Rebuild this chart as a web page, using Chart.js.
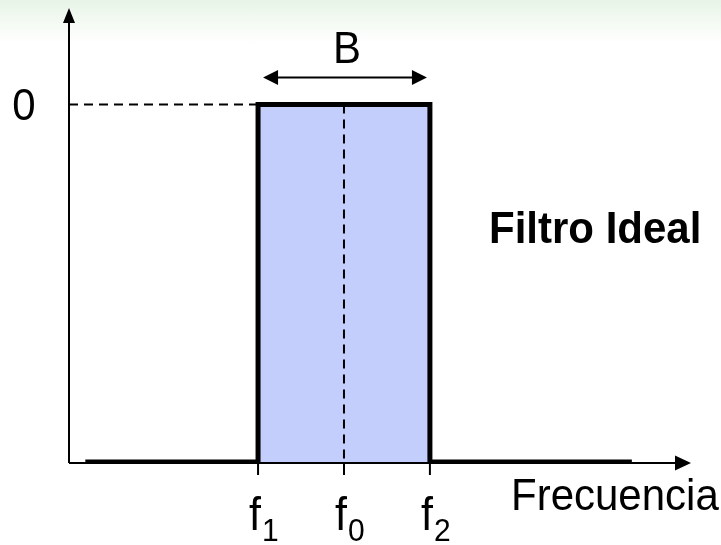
<!DOCTYPE html>
<html>
<head>
<meta charset="utf-8">
<title>Filtro Ideal</title>
<script src="https://cdn.jsdelivr.net/npm/chart.js@4/dist/chart.umd.min.js"></script>
<style>
  html, body { margin: 0; padding: 0; background: #ffffff; }
  #wrap { width: 721px; height: 545px; background: linear-gradient(to bottom, #e7f4e6 0px, #f4faf3 22px, #ffffff 44px, #ffffff 100%); }
  canvas { display: block; }
</style>
</head>
<body>
<div id="wrap"><canvas id="c" width="721" height="545"></canvas></div>
<script>
// Band edges and centre frequency (arbitrary frequency units)
const bandFreqs = [2.2, 3.2, 4.2];
const bandSubscripts = ['1', '0', '2'];
// Ideal response: stop band level and pass band level (0 dB)
const responseFreqs = [0.19, 2.2, 2.2, 4.2, 4.2, 6.55];
const responseLevels = [-1, -1, 0, 0, -1, -1];
const passLevel = 0;
const stopLevel = -1;
const levelLabels = ['0'];
const axisTitle = 'Frecuencia';
const bandwidthLabel = 'B';
const filterTitle = 'Filtro Ideal';

const FONT = '"Liberation Sans", Arial, sans-serif';
const TEXT_STRETCH = 1.07;

const toPoints = (xs, ys) => xs.map((x, i) => ({ x: x, y: ys[i] }));

function arrowHead(ctx, x, y, dx, dy, len, half) {
  // tip at (x,y), pointing along (dx,dy)
  const px = -dy, py = dx;
  ctx.beginPath();
  ctx.moveTo(x, y);
  ctx.lineTo(x - dx * len + px * half, y - dy * len + py * half);
  ctx.lineTo(x - dx * len - px * half, y - dy * len - py * half);
  ctx.closePath();
  ctx.fill();
}

// text with a slightly tall aspect, anchored on its baseline
function drawText(ctx, text, x, y, font, align) {
  ctx.save();
  ctx.translate(x, y);
  ctx.scale(1, TEXT_STRETCH);
  ctx.font = font;
  ctx.textAlign = align;
  ctx.textBaseline = 'alphabetic';
  ctx.fillText(text, 0, 0);
  ctx.restore();
}

const decorations = {
  id: 'decorations',
  afterDatasetsDraw(chart) {
    const ctx = chart.ctx;
    const xs = chart.scales.x, ys = chart.scales.y;
    const area = chart.chartArea;
    const x0 = xs.getPixelForValue(xs.min);
    const yStop = ys.getPixelForValue(stopLevel);
    const yPass = ys.getPixelForValue(passLevel);
    ctx.save();
    ctx.strokeStyle = '#000';
    ctx.fillStyle = '#000';
    ctx.lineWidth = 2;

    // vertical axis with arrow
    ctx.beginPath();
    ctx.moveTo(x0, yStop + 1);
    ctx.lineTo(x0, area.top + 14);
    ctx.stroke();
    arrowHead(ctx, x0, area.top, 0, -1, 15, 6);

    // horizontal axis with arrow
    ctx.beginPath();
    ctx.moveTo(x0, yStop + 1);
    ctx.lineTo(area.right - 15, yStop + 1);
    ctx.stroke();
    arrowHead(ctx, area.right - 1, yStop + 1, 1, 0, 16, 7.5);

    // frequency ticks
    bandFreqs.forEach(f => {
      const px = xs.getPixelForValue(f);
      ctx.beginPath();
      ctx.moveTo(px, yStop);
      ctx.lineTo(px, yStop + 13);
      ctx.stroke();
    });

    // bandwidth arrow
    const xa = xs.getPixelForValue(bandFreqs[0]);
    const xb = xs.getPixelForValue(bandFreqs[2]);
    const yB = yPass - 27;
    ctx.beginPath();
    ctx.moveTo(xa + 14, yB);
    ctx.lineTo(xb - 14, yB);
    ctx.stroke();
    arrowHead(ctx, xa + 5, yB, -1, 0, 15, 7.5);
    arrowHead(ctx, xb - 3, yB, 1, 0, 15, 7.5);

    // texts
    drawText(ctx, bandwidthLabel, (xa + xb) / 2 + 3, yB - 15, '42px ' + FONT, 'center');
    drawText(ctx, levelLabels[0], 24, yPass + 15, '42px ' + FONT, 'center');
    drawText(ctx, axisTitle, 511, 510, '42px ' + FONT, 'left');

    bandFreqs.forEach((f, i) => {
      const px = xs.getPixelForValue(f);
      drawText(ctx, 'f', px - 9, 530, '43px ' + FONT, 'left');
      drawText(ctx, bandSubscripts[i], px + 4, 541, '30px ' + FONT, 'left');
    });

    drawText(ctx, filterTitle, 489, 243, 'bold 42px ' + FONT, 'left');
    ctx.restore();
  }
};

new Chart(document.getElementById('c'), {
  type: 'scatter',
  data: {
    datasets: [
      {
        // pass band area
        data: toPoints([bandFreqs[0], bandFreqs[2]], [passLevel, passLevel]),
        showLine: true,
        borderWidth: 0,
        pointRadius: 0,
        backgroundColor: '#c4cefc',
        fill: { value: stopLevel },
        order: 4
      },
      {
        // centre frequency marker
        data: toPoints([bandFreqs[1], bandFreqs[1]], [passLevel, stopLevel]),
        showLine: true,
        borderColor: '#000',
        borderWidth: 2,
        borderDash: [9, 6],
        pointRadius: 0,
        fill: false,
        order: 3
      },
      {
        // pass band level reference
        data: toPoints([0, bandFreqs[0]], [passLevel, passLevel]),
        showLine: true,
        borderColor: '#000',
        borderWidth: 2,
        borderDash: [9, 6],
        pointRadius: 0,
        fill: false,
        order: 2
      },
      {
        // ideal response
        data: toPoints(responseFreqs, responseLevels),
        showLine: true,
        borderColor: '#000',
        borderWidth: 5,
        borderJoinStyle: 'miter',
        borderCapStyle: 'butt',
        pointRadius: 0,
        fill: false,
        tension: 0,
        order: 1
      }
    ]
  },
  options: {
    responsive: false,
    animation: false,
    devicePixelRatio: 1,
    layout: { padding: { left: 69, right: 29, top: 8, bottom: 83 } },
    plugins: { legend: { display: false }, tooltip: { enabled: false } },
    scales: {
      x: { type: 'linear', min: 0, max: 7.25, display: false },
      y: { type: 'linear', min: -1.0, max: 0.27, display: false }
    }
  },
  plugins: [decorations]
});
</script>
</body>
</html>
